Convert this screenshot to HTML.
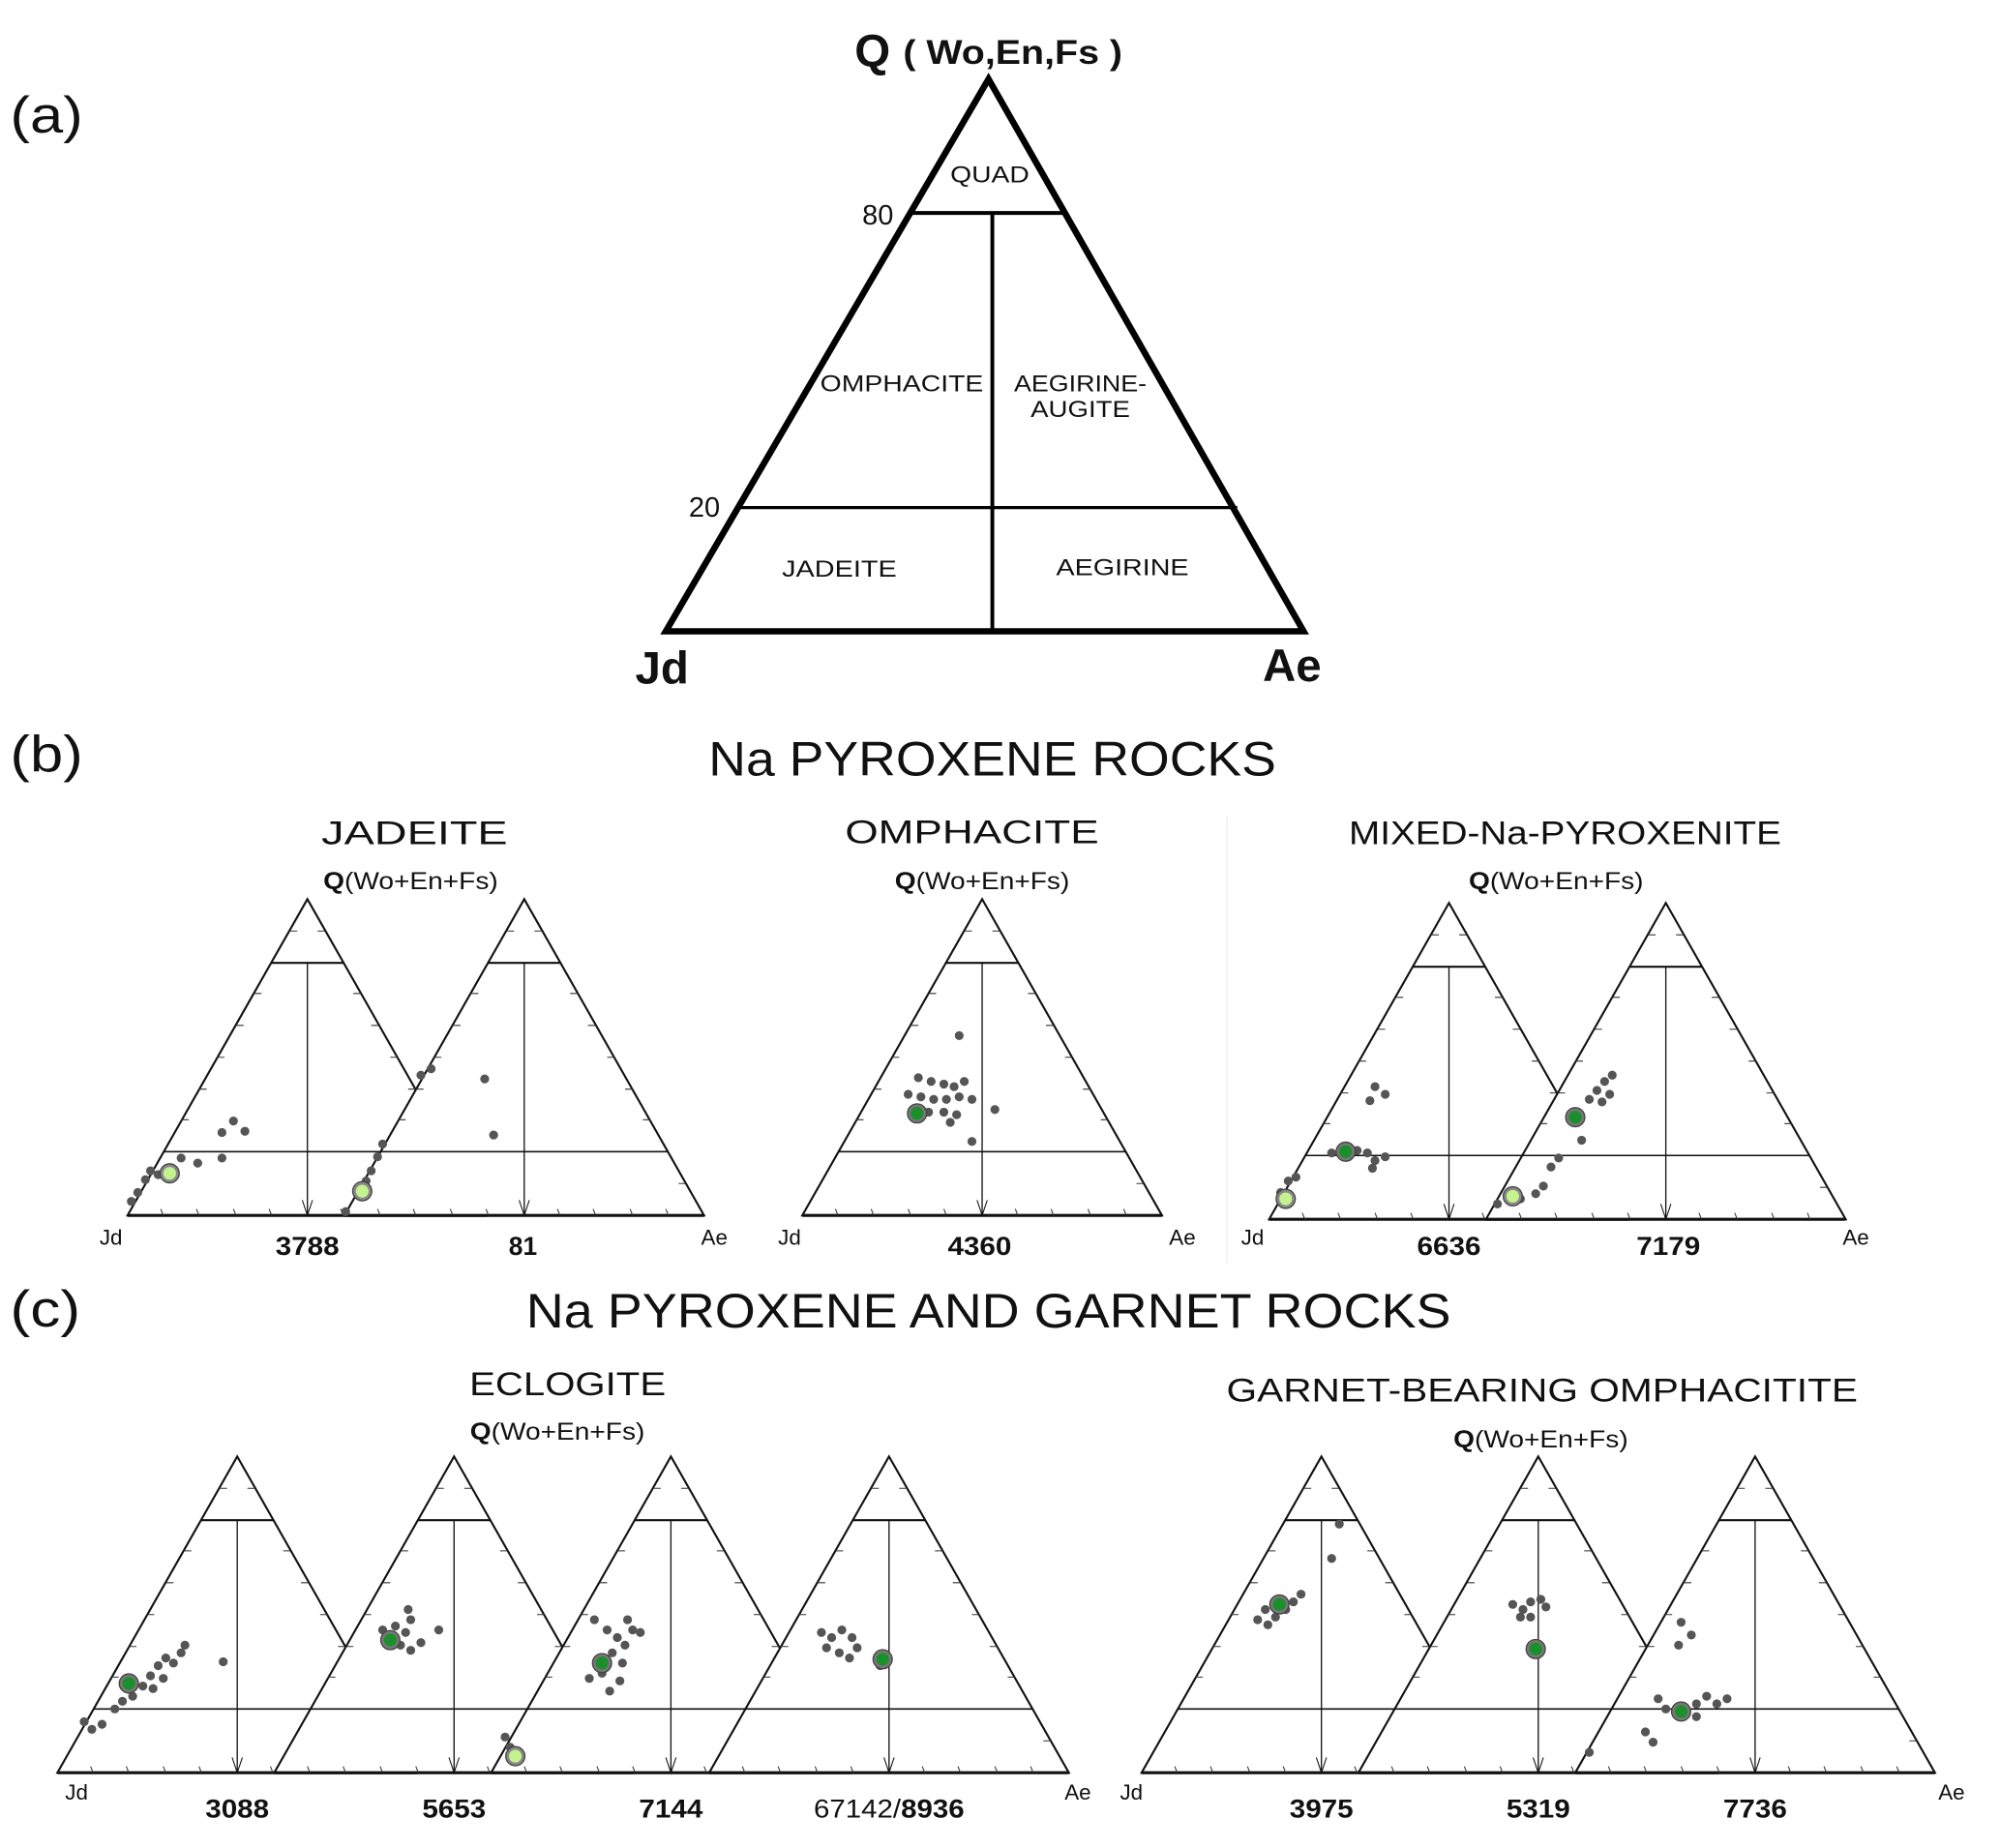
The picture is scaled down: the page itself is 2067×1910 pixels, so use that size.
<!DOCTYPE html>
<html><head><meta charset="utf-8"><style>
html,body{margin:0;padding:0;background:#fff}
svg{display:block}
text{font-family:"Liberation Sans",Arial,sans-serif;fill:#111}
</style></head><body>
<svg width="2067" height="1910" viewBox="0 0 1568 1449" preserveAspectRatio="none" xmlns="http://www.w3.org/2000/svg">
<defs>
<g id="tri">
<polygon points="0,0 -141,248 141,248" fill="#fff" stroke="#111" stroke-width="1.6"/>
<line x1="-141" y1="248" x2="141" y2="248" stroke="#111" stroke-width="2.4"/>
<line x1="-28.4" y1="50" x2="28.4" y2="50" stroke="#111" stroke-width="1.6"/>
<line x1="-112.6" y1="198" x2="112.6" y2="198" stroke="#111" stroke-width="1.2"/>
<line x1="0" y1="50" x2="0" y2="248" stroke="#111" stroke-width="1"/>
<path d="M-4,236 L0,248 L4,236" fill="none" stroke="#111" stroke-width="0.8"/>
<g stroke="#333" stroke-width="0.8" fill="none">
<path d="M-113,248 l-2,-5 M-85,248 l-2,-5 M-56,248 l-2,-5 M-28,248 l-2,-5 M28,248 l-2,-5 M56,248 l-2,-5 M85,248 l-2,-5 M113,248 l-2,-5"/>
<path d="M-14,25 h6 M-42,74 h6 M-56,99 h6 M-71,124 h6 M-85,149 h6 M-99,173 h6 M14,25 h-6 M42,74 h-6 M56,99 h-6 M71,124 h-6 M85,149 h-6 M99,173 h-6 M127,223 h-6"/>
</g>
</g>
<g id="gd"><circle r="7.5" fill="#777" stroke="#444" stroke-width="1"/><circle r="5" fill="#1a8f2c"/></g>
<g id="ld"><circle r="7.5" fill="#888" stroke="#444" stroke-width="1"/><circle r="5" fill="#c4f28e"/></g>
</defs>

<!-- (a) -->
<text x="8" y="104" font-size="40" textLength="57" lengthAdjust="spacingAndGlyphs">(a)</text>
<text x="670" y="52" font-size="36" font-weight="bold">Q</text>
<text x="708" y="50" font-size="27" font-weight="bold" textLength="172" lengthAdjust="spacingAndGlyphs">( Wo,En,Fs )</text>
<polygon points="775,62 522,495 1022,495" fill="none" stroke="#000" stroke-width="5" stroke-linejoin="miter"/>
<line x1="714" y1="167" x2="837" y2="167" stroke="#000" stroke-width="3"/>
<line x1="778" y1="167" x2="778" y2="495" stroke="#000" stroke-width="3"/>
<line x1="578" y1="398" x2="970" y2="398" stroke="#000" stroke-width="2.5"/>
<text x="676" y="176" font-size="22">80</text>
<text x="540" y="405" font-size="22">20</text>
<text x="776" y="143" font-size="18" text-anchor="middle" textLength="62" lengthAdjust="spacingAndGlyphs">QUAD</text>
<text x="707" y="307" font-size="18" text-anchor="middle" textLength="128" lengthAdjust="spacingAndGlyphs">OMPHACITE</text>
<text x="847" y="307" font-size="18" text-anchor="middle" textLength="104" lengthAdjust="spacingAndGlyphs">AEGIRINE-</text>
<text x="847" y="327" font-size="18" text-anchor="middle" textLength="78" lengthAdjust="spacingAndGlyphs">AUGITE</text>
<text x="658" y="452" font-size="18" text-anchor="middle" textLength="90" lengthAdjust="spacingAndGlyphs">JADEITE</text>
<text x="880" y="451" font-size="18" text-anchor="middle" textLength="104" lengthAdjust="spacingAndGlyphs">AEGIRINE</text>
<text x="519" y="536" font-size="36" font-weight="bold" text-anchor="middle">Jd</text>
<text x="1013" y="534" font-size="36" font-weight="bold" text-anchor="middle">Ae</text>

<!-- (b) -->
<text x="8" y="605" font-size="40" textLength="57" lengthAdjust="spacingAndGlyphs">(b)</text>
<text x="778" y="608" font-size="38" text-anchor="middle" textLength="445" lengthAdjust="spacingAndGlyphs">Na PYROXENE ROCKS</text>
<line x1="962" y1="640" x2="962" y2="990" stroke="#eee" stroke-width="1"/>
<text x="325" y="662" font-size="26" text-anchor="middle" textLength="146" lengthAdjust="spacingAndGlyphs">JADEITE</text>
<text x="762" y="661" font-size="26" text-anchor="middle" textLength="199" lengthAdjust="spacingAndGlyphs">OMPHACITE</text>
<text x="1227" y="662" font-size="26" text-anchor="middle" textLength="339" lengthAdjust="spacingAndGlyphs">MIXED-Na-PYROXENITE</text>
<text x="322" y="697" font-size="19" text-anchor="middle" textLength="137" lengthAdjust="spacingAndGlyphs"><tspan font-weight="bold">Q</tspan>(Wo+En+Fs)</text>
<text x="770" y="697" font-size="19" text-anchor="middle" textLength="137" lengthAdjust="spacingAndGlyphs"><tspan font-weight="bold">Q</tspan>(Wo+En+Fs)</text>
<text x="1220" y="697" font-size="19" text-anchor="middle" textLength="137" lengthAdjust="spacingAndGlyphs"><tspan font-weight="bold">Q</tspan>(Wo+En+Fs)</text>

<use href="#tri" x="241" y="705"/>
<use href="#tri" x="411" y="705"/>
<use href="#tri" x="770" y="705"/>
<use href="#tri" x="1136" y="708"/>
<use href="#tri" x="1306" y="708"/>

<g fill="#555">
<circle cx="103" cy="942" r="3.5"/><circle cx="108" cy="935" r="3.5"/><circle cx="114" cy="925" r="3.5"/><circle cx="118" cy="918" r="3.5"/><circle cx="124" cy="921" r="3.5"/><circle cx="142" cy="908" r="3.5"/><circle cx="155" cy="912" r="3.5"/><circle cx="174" cy="908" r="3.5"/><circle cx="174" cy="888" r="3.5"/><circle cx="183" cy="879" r="3.5"/><circle cx="192" cy="887" r="3.5"/>
<circle cx="271" cy="950" r="3.5"/><circle cx="287" cy="926" r="3.5"/><circle cx="291" cy="918" r="3.5"/><circle cx="296" cy="907" r="3.5"/><circle cx="300" cy="897" r="3.5"/><circle cx="330" cy="843" r="3.5"/><circle cx="338" cy="838" r="3.5"/><circle cx="380" cy="846" r="3.5"/><circle cx="387" cy="890" r="3.5"/>
<circle cx="752" cy="812" r="3.5"/><circle cx="720" cy="845" r="3.5"/><circle cx="730" cy="848" r="3.5"/><circle cx="740" cy="850" r="3.5"/><circle cx="748" cy="852" r="3.5"/><circle cx="756" cy="848" r="3.5"/><circle cx="712" cy="858" r="3.5"/><circle cx="722" cy="860" r="3.5"/><circle cx="732" cy="862" r="3.5"/><circle cx="742" cy="862" r="3.5"/><circle cx="752" cy="860" r="3.5"/><circle cx="762" cy="862" r="3.5"/><circle cx="728" cy="872" r="3.5"/><circle cx="740" cy="872" r="3.5"/><circle cx="750" cy="874" r="3.5"/><circle cx="745" cy="880" r="3.5"/><circle cx="780" cy="870" r="3.5"/><circle cx="762" cy="895" r="3.5"/>
<circle cx="1004" cy="935" r="3.5"/><circle cx="1010" cy="926" r="3.5"/><circle cx="1016" cy="923" r="3.5"/><circle cx="1044" cy="904" r="3.5"/><circle cx="1064" cy="902" r="3.5"/><circle cx="1072" cy="904" r="3.5"/><circle cx="1078" cy="910" r="3.5"/><circle cx="1086" cy="907" r="3.5"/><circle cx="1076" cy="916" r="3.5"/><circle cx="1078" cy="852" r="3.5"/><circle cx="1086" cy="858" r="3.5"/><circle cx="1074" cy="863" r="3.5"/>
<circle cx="1174" cy="944" r="3.5"/><circle cx="1192" cy="940" r="3.5"/><circle cx="1204" cy="936" r="3.5"/><circle cx="1210" cy="930" r="3.5"/><circle cx="1216" cy="915" r="3.5"/><circle cx="1222" cy="908" r="3.5"/><circle cx="1240" cy="894" r="3.5"/><circle cx="1246" cy="862" r="3.5"/><circle cx="1252" cy="855" r="3.5"/><circle cx="1258" cy="848" r="3.5"/><circle cx="1264" cy="843" r="3.5"/><circle cx="1256" cy="864" r="3.5"/><circle cx="1262" cy="858" r="3.5"/>
</g>
<use href="#ld" x="133" y="920"/>
<use href="#ld" x="284" y="934"/>
<use href="#gd" x="719" y="873"/>
<use href="#gd" x="1055" y="903"/>
<use href="#ld" x="1008" y="940"/>
<use href="#ld" x="1186" y="938"/>
<use href="#gd" x="1235" y="876"/>

<text x="87" y="976" font-size="17" text-anchor="middle">Jd</text>
<text x="241" y="984" font-size="20" font-weight="bold" text-anchor="middle" textLength="50" lengthAdjust="spacingAndGlyphs">3788</text>
<text x="410" y="984" font-size="20" font-weight="bold" text-anchor="middle">81</text>
<text x="560" y="976" font-size="17" text-anchor="middle">Ae</text>
<text x="619" y="976" font-size="17" text-anchor="middle">Jd</text>
<text x="768" y="984" font-size="20" font-weight="bold" text-anchor="middle" textLength="50" lengthAdjust="spacingAndGlyphs">4360</text>
<text x="927" y="976" font-size="17" text-anchor="middle">Ae</text>
<text x="982" y="976" font-size="17" text-anchor="middle">Jd</text>
<text x="1136" y="984" font-size="20" font-weight="bold" text-anchor="middle" textLength="50" lengthAdjust="spacingAndGlyphs">6636</text>
<text x="1308" y="984" font-size="20" font-weight="bold" text-anchor="middle" textLength="50" lengthAdjust="spacingAndGlyphs">7179</text>
<text x="1455" y="976" font-size="17" text-anchor="middle">Ae</text>

<!-- (c) -->
<text x="8" y="1040" font-size="40" textLength="55" lengthAdjust="spacingAndGlyphs">(c)</text>
<text x="775" y="1041" font-size="38" text-anchor="middle" textLength="725" lengthAdjust="spacingAndGlyphs">Na PYROXENE AND GARNET ROCKS</text>
<text x="445" y="1094" font-size="26" text-anchor="middle" textLength="154" lengthAdjust="spacingAndGlyphs">ECLOGITE</text>
<text x="437" y="1129" font-size="19" text-anchor="middle" textLength="137" lengthAdjust="spacingAndGlyphs"><tspan font-weight="bold">Q</tspan>(Wo+En+Fs)</text>
<text x="1209" y="1099" font-size="26" text-anchor="middle" textLength="495" lengthAdjust="spacingAndGlyphs">GARNET-BEARING OMPHACITITE</text>
<text x="1208" y="1135" font-size="19" text-anchor="middle" textLength="137" lengthAdjust="spacingAndGlyphs"><tspan font-weight="bold">Q</tspan>(Wo+En+Fs)</text>

<use href="#tri" x="186" y="1142"/>
<use href="#tri" x="356" y="1142"/>
<use href="#tri" x="526" y="1142"/>
<use href="#tri" x="697" y="1142"/>
<use href="#tri" x="1036" y="1142"/>
<use href="#tri" x="1206" y="1142"/>
<use href="#tri" x="1376" y="1142"/>

<g fill="#555">
<circle cx="66" cy="1350" r="3.5"/><circle cx="72" cy="1356" r="3.5"/><circle cx="80" cy="1352" r="3.5"/><circle cx="90" cy="1340" r="3.5"/><circle cx="96" cy="1334" r="3.5"/><circle cx="104" cy="1330" r="3.5"/><circle cx="112" cy="1322" r="3.5"/><circle cx="118" cy="1314" r="3.5"/><circle cx="124" cy="1306" r="3.5"/><circle cx="130" cy="1300" r="3.5"/><circle cx="136" cy="1304" r="3.5"/><circle cx="142" cy="1296" r="3.5"/><circle cx="120" cy="1324" r="3.5"/><circle cx="128" cy="1316" r="3.5"/><circle cx="145" cy="1290" r="3.5"/><circle cx="175" cy="1303" r="3.5"/>
<circle cx="300" cy="1278" r="3.5"/><circle cx="310" cy="1275" r="3.5"/><circle cx="318" cy="1280" r="3.5"/><circle cx="322" cy="1270" r="3.5"/><circle cx="314" cy="1290" r="3.5"/><circle cx="322" cy="1294" r="3.5"/><circle cx="330" cy="1288" r="3.5"/><circle cx="320" cy="1262" r="3.5"/><circle cx="344" cy="1278" r="3.5"/><circle cx="396" cy="1362" r="3.5"/><circle cx="400" cy="1370" r="3.5"/>
<circle cx="466" cy="1270" r="3.5"/><circle cx="476" cy="1278" r="3.5"/><circle cx="484" cy="1284" r="3.5"/><circle cx="490" cy="1290" r="3.5"/><circle cx="496" cy="1278" r="3.5"/><circle cx="502" cy="1280" r="3.5"/><circle cx="480" cy="1296" r="3.5"/><circle cx="488" cy="1304" r="3.5"/><circle cx="472" cy="1312" r="3.5"/><circle cx="486" cy="1318" r="3.5"/><circle cx="478" cy="1326" r="3.5"/><circle cx="462" cy="1316" r="3.5"/><circle cx="492" cy="1270" r="3.5"/>
<circle cx="644" cy="1280" r="3.5"/><circle cx="652" cy="1284" r="3.5"/><circle cx="660" cy="1278" r="3.5"/><circle cx="668" cy="1284" r="3.5"/><circle cx="648" cy="1292" r="3.5"/><circle cx="658" cy="1296" r="3.5"/><circle cx="666" cy="1300" r="3.5"/><circle cx="672" cy="1292" r="3.5"/><circle cx="690" cy="1306" r="3.5"/>
<circle cx="1050" cy="1195" r="3.5"/><circle cx="1044" cy="1222" r="3.5"/><circle cx="986" cy="1270" r="3.5"/><circle cx="994" cy="1274" r="3.5"/><circle cx="1000" cy="1268" r="3.5"/><circle cx="1008" cy="1262" r="3.5"/><circle cx="1014" cy="1256" r="3.5"/><circle cx="1020" cy="1250" r="3.5"/><circle cx="992" cy="1262" r="3.5"/>
<circle cx="1186" cy="1258" r="3.5"/><circle cx="1194" cy="1262" r="3.5"/><circle cx="1200" cy="1256" r="3.5"/><circle cx="1208" cy="1254" r="3.5"/><circle cx="1192" cy="1268" r="3.5"/><circle cx="1200" cy="1268" r="3.5"/><circle cx="1212" cy="1260" r="3.5"/>
<circle cx="1318" cy="1272" r="3.5"/><circle cx="1326" cy="1282" r="3.5"/><circle cx="1316" cy="1290" r="3.5"/><circle cx="1300" cy="1332" r="3.5"/><circle cx="1306" cy="1340" r="3.5"/><circle cx="1330" cy="1336" r="3.5"/><circle cx="1338" cy="1330" r="3.5"/><circle cx="1346" cy="1336" r="3.5"/><circle cx="1354" cy="1332" r="3.5"/><circle cx="1330" cy="1346" r="3.5"/><circle cx="1290" cy="1358" r="3.5"/><circle cx="1296" cy="1366" r="3.5"/><circle cx="1246" cy="1374" r="3.5"/>
</g>
<use href="#gd" x="101" y="1320"/>
<use href="#gd" x="306" y="1286"/>
<use href="#ld" x="404" y="1377"/>
<use href="#gd" x="472" y="1304"/>
<use href="#gd" x="692" y="1301"/>
<use href="#gd" x="1003" y="1258"/>
<use href="#gd" x="1204" y="1293"/>
<use href="#gd" x="1318" y="1342"/>

<text x="60" y="1411" font-size="17" text-anchor="middle">Jd</text>
<text x="186" y="1425" font-size="20" font-weight="bold" text-anchor="middle" textLength="50" lengthAdjust="spacingAndGlyphs">3088</text>
<text x="356" y="1425" font-size="20" font-weight="bold" text-anchor="middle" textLength="50" lengthAdjust="spacingAndGlyphs">5653</text>
<text x="526" y="1425" font-size="20" font-weight="bold" text-anchor="middle" textLength="50" lengthAdjust="spacingAndGlyphs">7144</text>
<text x="697" y="1425" font-size="20" text-anchor="middle" textLength="118" lengthAdjust="spacingAndGlyphs">67142/<tspan font-weight="bold">8936</tspan></text>
<text x="845" y="1411" font-size="17" text-anchor="middle">Ae</text>
<text x="887" y="1411" font-size="17" text-anchor="middle">Jd</text>
<text x="1036" y="1425" font-size="20" font-weight="bold" text-anchor="middle" textLength="50" lengthAdjust="spacingAndGlyphs">3975</text>
<text x="1206" y="1425" font-size="20" font-weight="bold" text-anchor="middle" textLength="50" lengthAdjust="spacingAndGlyphs">5319</text>
<text x="1376" y="1425" font-size="20" font-weight="bold" text-anchor="middle" textLength="50" lengthAdjust="spacingAndGlyphs">7736</text>
<text x="1530" y="1411" font-size="17" text-anchor="middle">Ae</text>
</svg>
</body></html>
